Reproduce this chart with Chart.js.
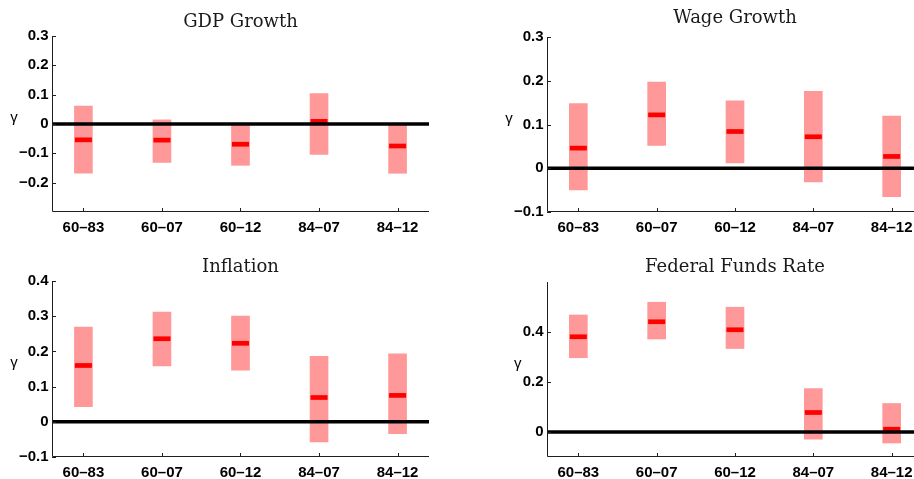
<!DOCTYPE html>
<html>
<head>
<meta charset="utf-8">
<script src="https://cdn.jsdelivr.net/npm/chart.js@4.4.1/dist/chart.umd.min.js"></script>
<style>
  html, body { margin: 0; padding: 0; background: #fff; width: 914px; height: 479px; overflow: hidden; position: relative; }
  canvas { position: absolute; }
</style>
</head>
<body>
<canvas id="gdp"></canvas>
<canvas id="wage"></canvas>
<canvas id="infl"></canvas>
<canvas id="ffr"></canvas>
<script>
// Sample periods
const periods = ['60–83', '60–07', '60–12', '84–07', '84–12'];

// Estimated gamma: band low / band high / point estimate
const gdpLow  = [-0.168, -0.131, -0.141, -0.104, -0.168];
const gdpHigh = [ 0.061,  0.014, -0.002,  0.104, -0.003];
const gdpMid  = [-0.054, -0.055, -0.069,  0.009, -0.075];

const wageLow  = [-0.0495, 0.052, 0.012, -0.031, -0.065];
const wageHigh = [ 0.148,  0.197, 0.154,  0.176,  0.119];
const wageMid  = [ 0.046,  0.122, 0.084,  0.072,  0.027];

const inflLow  = [0.043, 0.159, 0.147, -0.057, -0.034];
const inflHigh = [0.269, 0.312, 0.300,  0.186,  0.193];
const inflMid  = [0.160, 0.236, 0.223,  0.069,  0.075];

const ffrLow  = [0.297, 0.372, 0.334, -0.029, -0.044];
const ffrHigh = [0.468, 0.519, 0.499,  0.174,  0.114];
const ffrMid  = [0.381, 0.441, 0.409,  0.078,  0.011];

// Y tick labels for each panel
const gdpTicks  = [-0.2, -0.1, 0, 0.1, 0.2, 0.3];
const wageTicks = [-0.1, 0, 0.1, 0.2, 0.3];
const inflTicks = [-0.1, 0, 0.1, 0.2, 0.3, 0.4];
const ffrTicks  = [0, 0.2, 0.4];

const panels = [
  { id: 'gdp',  title: 'GDP Growth',         low: gdpLow,  high: gdpHigh,  mid: gdpMid,  ticks: gdpTicks,  yMin: -0.3, yMax: 0.3,
    box: { left: 0,   top: 0,   w: 460, h: 240 }, area: { left: 52, top: 36, right: 429, bottom: 212 }, xH: 28, titleGap: 14 },
  { id: 'wage', title: 'Wage Growth',        low: wageLow, high: wageHigh, mid: wageMid, ticks: wageTicks, yMin: -0.1, yMax: 0.3,
    box: { left: 460, top: 0,   w: 480, h: 240 }, area: { left: 87, top: 37, right: 463, bottom: 212 }, xH: 28, titleGap: 19 },
  { id: 'infl', title: 'Inflation',          low: inflLow, high: inflHigh, mid: inflMid, ticks: inflTicks, yMin: -0.1, yMax: 0.4,
    box: { left: 0,   top: 240, w: 460, h: 239 }, area: { left: 52, top: 41, right: 429, bottom: 217 }, xH: 22, titleGap: 14 },
  { id: 'ffr',  title: 'Federal Funds Rate', low: ffrLow,  high: ffrHigh,  mid: ffrMid,  ticks: ffrTicks,  yMin: -0.1, yMax: 0.6,
    box: { left: 460, top: 240, w: 480, h: 239 }, area: { left: 87, top: 42, right: 463, bottom: 217 }, xH: 22, titleGap: 15 }
];

const TICK_FONT = { family: 'Liberation Sans, Arial, sans-serif', size: 15, weight: 'bold' };

function fmtTick(v) {
  if (Math.abs(v) < 1e-9) return '0';
  return (v < 0 ? '\u2212' : '') + Math.abs(v).toFixed(1);
}

// Zero line, L-shaped axes with inward ticks, title and gamma label
const framePlugin = {
  id: 'frame',
  afterDatasetsDraw(chart, args, opts) {
    const { ctx, chartArea: a, scales: { x, y } } = chart;
    ctx.save();
    const y0 = y.getPixelForValue(0);
    ctx.strokeStyle = '#000';
    ctx.lineWidth = 3.6;
    ctx.beginPath();
    ctx.moveTo(a.left, y0);
    ctx.lineTo(a.right, y0);
    ctx.stroke();

    ctx.lineWidth = 1;
    ctx.strokeStyle = '#1e1e1e';
    ctx.beginPath();
    ctx.moveTo(a.left + 0.5, a.top);
    ctx.lineTo(a.left + 0.5, a.bottom - 0.5);
    ctx.lineTo(a.right, a.bottom - 0.5);
    y.ticks.forEach(t => {
      const p = Math.round(y.getPixelForValue(t.value)) + 0.5;
      ctx.moveTo(a.left, p);
      ctx.lineTo(a.left + 4, p);
    });
    x.ticks.forEach(t => {
      const p = Math.round(x.getPixelForValue(t.value)) + 0.5;
      ctx.moveTo(p, a.bottom);
      ctx.lineTo(p, a.bottom - 4);
    });
    ctx.stroke();

    // Title
    ctx.fillStyle = '#1a1a1a';
    ctx.font = '18px "DejaVu Serif", serif';
    ctx.textAlign = 'center';
    ctx.textBaseline = 'middle';
    ctx.fillText(opts.title, (a.left + a.right) / 2, a.top - opts.titleGap);

    // Gamma label, left of the widest tick label
    ctx.font = 'bold 15px "Liberation Sans", Arial, sans-serif';
    let maxW = 0;
    y.ticks.forEach(t => { maxW = Math.max(maxW, ctx.measureText(fmtTick(t.value)).width); });
    const labelLeft = a.left - 3.5 - maxW;
    ctx.font = '15px "Liberation Sans", Arial, sans-serif';
    ctx.fillStyle = '#000';
    ctx.fillText('\u03b3', labelLeft - 5, (a.top + a.bottom) / 2 - 6);
    ctx.restore();
  }
};

panels.forEach(p => {
  const cv = document.getElementById(p.id);
  cv.width = p.box.w;
  cv.height = p.box.h;
  cv.style.left = p.box.left + 'px';
  cv.style.top = p.box.top + 'px';
  cv.style.width = p.box.w + 'px';
  cv.style.height = p.box.h + 'px';

  new Chart(cv, {
    type: 'bar',
    data: {
      datasets: [
        {
          type: 'bar',
          data: periods.map((_, i) => ({ x: i + 1, y: [p.low[i], p.high[i]] })),
          backgroundColor: '#ff9999',
          borderWidth: 0,
          barThickness: 18,
          order: 2
        },
        {
          type: 'line',
          data: periods.map((_, i) => ({ x: i + 1, y: p.mid[i] })),
          showLine: false,
          pointStyle: 'line',
          pointRadius: 8.5,
          pointBorderWidth: 4.7,
          borderColor: '#ff0000',
          backgroundColor: '#ff0000',
          order: 1
        }
      ]
    },
    options: {
      responsive: false,
      animation: false,
      events: [],
      layout: {
        padding: {
          left: 0,
          top: p.area.top,
          right: p.box.w - p.area.right,
          bottom: p.box.h - p.area.bottom - p.xH
        }
      },
      plugins: {
        legend: { display: false },
        tooltip: { enabled: false },
        frame: { title: p.title, titleGap: p.titleGap }
      },
      scales: {
        x: {
          type: 'linear',
          offset: false,
          min: 0.6,
          max: 5.4,
          grid: { display: false, drawTicks: false, offset: false },
          border: { display: false },
          afterBuildTicks: s => { s.ticks = periods.map((_, i) => ({ value: i + 1 })); },
          afterFit: s => { s.height = p.xH; },
          ticks: {
            font: TICK_FONT,
            color: '#000',
            padding: 7,
            maxRotation: 0,
            autoSkip: false,
            callback: v => periods[v - 1] ?? ''
          }
        },
        y: {
          type: 'linear',
          min: p.yMin,
          max: p.yMax,
          grid: { display: false, drawTicks: false },
          border: { display: false },
          afterBuildTicks: s => { s.ticks = p.ticks.map(v => ({ value: v })); },
          afterFit: s => { s.width = p.area.left; },
          ticks: {
            font: TICK_FONT,
            color: '#000',
            padding: 3.5,
            autoSkip: false,
            callback: v => fmtTick(v)
          }
        }
      }
    },
    plugins: [framePlugin]
  });
});
</script>
</body>
</html>
